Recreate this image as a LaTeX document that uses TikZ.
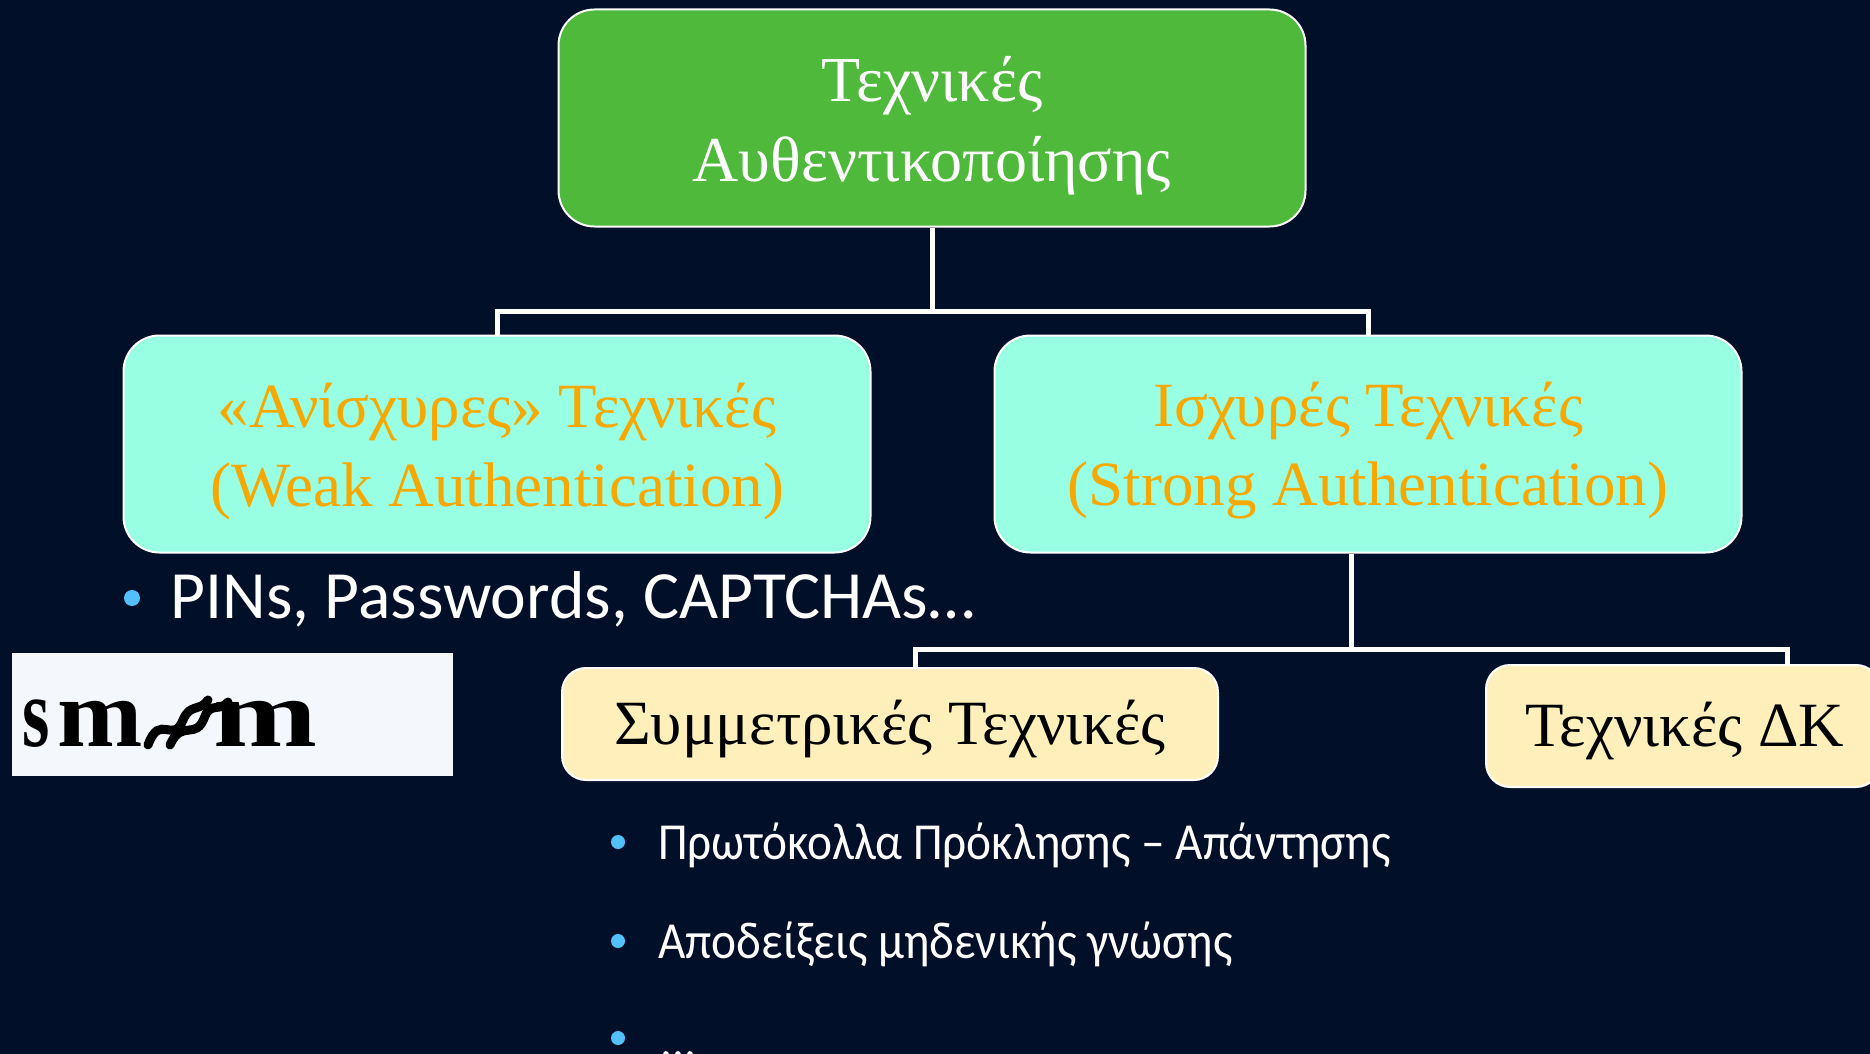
\documentclass[tikz,border=0pt]{standalone}
\usepackage{fontspec}
\usepackage{graphicx}
\setmainfont{Liberation Serif}
\newfontfamily\bodyfont{Carlito}
\newfontfamily\listfont[FakeStretch=0.91]{Carlito}
\definecolor{bg}{RGB}{1,16,40}
\definecolor{topgreen}{RGB}{78,185,58}
\definecolor{midcyan}{RGB}{153,255,226}
\definecolor{midorange}{RGB}{247,168,0}
\definecolor{lowyellow}{RGB}{255,240,187}
\definecolor{dotblue}{RGB}{84,192,250}
\definecolor{capbg}{RGB}{244,247,252}
\tikzset{
  box/.style={draw=white, line width=1pt, rounded corners=18pt, inner sep=0pt, align=center},
  topbox/.style={box, fill=topgreen, minimum width=373.5pt, minimum height=108.5pt},
  midbox/.style={box, fill=midcyan, minimum width=373.5pt, minimum height=108.5pt},
  lowbox/.style={box, rounded corners=12pt, fill=lowyellow},
  boxtext/.style={inner sep=0pt, align=center},
  link/.style={draw=white, line width=2.5pt},
  dot/.style={circle, fill=dotblue, inner sep=0pt, minimum size=7pt},
  bigtext/.style={anchor=base west, inner sep=0pt, text=white, font=\bodyfont\fontsize{33.8}{40}\selectfont},
  listtext/.style={anchor=base west, inner sep=0pt, text=white, font=\listfont\fontsize{26}{32}\selectfont},
  capglyph/.style={anchor=base west, inner sep=0pt, font=\fontsize{32}{32}\selectfont\bfseries},
  capstroke/.style={line width=4.5pt, line cap=round},
}
\begin{document}
\begin{tikzpicture}[x=0.5pt,y=-0.5pt]
\useasboundingbox (0,0) rectangle (1870,1054);
\fill[bg] (0,0) rectangle (1870,1054);

% hierarchy boxes
\node[topbox] (top) at (932,118) {};
\node[boxtext, text=white, font=\fontsize{32}{40}\selectfont] (toplabel) at (932,126) {Τεχνικές\\Αυθεντικοποίησης};
\node[midbox] (weak) at (497,444) {};
\node[boxtext, text=midorange, font=\fontsize{31.5}{39.5}\selectfont] (weaklabel) at (497,451)
  {«Ανίσχυρες» Τεχνικές\\(Weak Authentication)};
\node[midbox] (strong) at (1368,444) {};
\node[boxtext, text=midorange, font=\fontsize{31.5}{39.5}\selectfont] (stronglabel) at (1368,451)
  {Ισχυρές Τεχνικές\\(Strong Authentication)};
\node[lowbox, minimum width=328pt, minimum height=56pt] (sym) at (890,724) {};
\node[boxtext, font=\fontsize{31.5}{36}\selectfont] (symlabel) at (890,729) {Συμμετρικές Τεχνικές};
\node[lowbox, minimum width=197pt, minimum height=61pt] (pk) at (1683,726) {};
\node[boxtext, font=\fontsize{31.5}{36}\selectfont] (pklabel) at (1685,731) {Τεχνικές ΔΚ};

% tree connectors
\coordinate (bus1) at (0,311);
\coordinate (bus2) at (0,649);
\draw[link] (top.south) -- (top.south |- bus1) -| (weak.north);
\draw[link] (top.south |- bus1) -| (strong.north);
\draw[link] ([xshift=-8.5pt]strong.south) coordinate (drop) -- (drop |- bus2) -| ([xshift=12.5pt]sym.north);
\draw[link] (drop |- bus2) -| ([xshift=52pt]pk.north);

% weak authentication examples
\node[dot, minimum size=8pt] (d0) at (132,598) {};
\node[bigtext] (t0) at (170,618) {PINs, Passwords, CAPTCHAs…};

% captcha sample: distorted letters on a light panel
\node[fill=capbg, inner sep=0pt, minimum width=220.5pt, minimum height=61.5pt] (cap) at (232.5,714.5) {};
\node[capglyph] (cs) at (22,746) {\scalebox{1.1}[1.55]{s}};
\node[capglyph] (cm1) at (57,746) {\scalebox{1.6}[1.5]{m}};
\node[capglyph] (cm2) at (213,746) {\scalebox{1.95}[1.5]{m}};
\draw[capstroke] (148,745) .. controls (160,712) and (173,745) .. (183,720)
  .. controls (190,703) and (200,712) .. (208,700);
\draw[capstroke] (170,745) .. controls (182,718) and (196,742) .. (205,716)
  .. controls (211,702) and (220,712) .. (228,702);

% symmetric techniques list
\node[dot] (d1) at (618,842) {};
\node[listtext] (t1) at (658,859) {Πρωτόκολλα Πρόκλησης – Απάντησης};
\node[dot] (d2) at (618,941) {};
\node[listtext] (t2) at (658,958) {Αποδείξεις μηδενικής γνώσης};
\node[dot] (d3) at (618,1038) {};
\node[listtext] (t3) at (660,1057) {...};
\end{tikzpicture}
\end{document}
